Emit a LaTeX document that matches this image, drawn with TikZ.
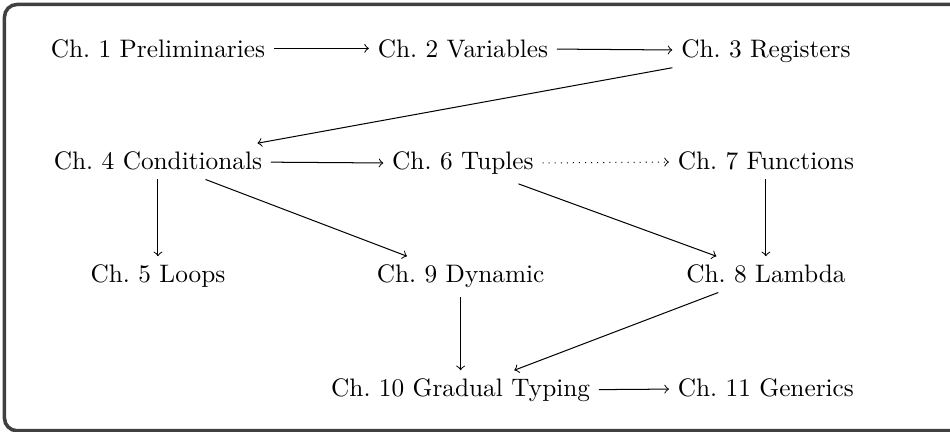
\documentclass[tikz,border=0pt]{standalone}
\usepackage{amsmath}
\usepackage{tikz}
\usetikzlibrary{arrows}
\usetikzlibrary{positioning}
\tikzset{chap/.style = {anchor = base}}
\tikzset{dep/.style = {->}}
\definecolor{mgray}{rgb}{0.25, 0.25, 0.25}

\begin{document}
\begin{tikzpicture}
      \useasboundingbox (0, 0) rectangle (13.2, -6.0);
      \begin{scope}
        \clip (0, 0) rectangle (13.2, -6.0);
        \draw [mgray, line width = 1.4pt, rounded corners = 5pt] (13.6, -5.985) -- (0.062, -5.985) -- (0.062, -0.062) -- (13.6, -0.062);
      \end{scope}

      \node [chap] (1) at (2.195, -0.792) {Ch.~1 Preliminaries};
      \node [chap] (2) at (6.432, -0.792) {Ch.~2 Variables};
      \node [chap] (3) at (10.642, -0.792) {Ch.~3 Registers};
      \node [chap] (4) at (2.195, -2.362) {Ch.~4 Conditionals};
      \node [chap] (6) at (6.432, -2.362) {Ch.~6 Tuples};
      \node [chap] (7) at (10.642, -2.362) {Ch.~7 Functions};
      \node [chap] (5) at (2.195, -3.932) {Ch.~5 Loops};
      \node [chap] (9) at (6.40, -3.932) {Ch.~9 Dynamic};
      \node [chap] (8) at (10.642, -3.932) {Ch.~8 Lambda};
      \node [chap] (10) at (6.40, -5.516) {Ch.~10 Gradual Typing};
      \node [chap] (11) at (10.642, -5.516) {Ch.~11 Generics};

      \draw [dep] (1) -- (2);
      \draw [dep] (2) -- (3);
      \draw [dep] (3) -- (4);
      \draw [dep] (4) -- (6);
      \draw [dep, dotted] (6) -- (7);
      \draw [dep] (4) -- (5);
      \draw [dep] (4) -- (9);
      \draw [dep] (6) -- (8);
      \draw [dep] (7) -- (8);
      \draw [dep] (9) -- (10);
      \draw [dep] (8) -- (10);
      \draw [dep] (10) -- (11);

    \end{tikzpicture}
\end{document}
